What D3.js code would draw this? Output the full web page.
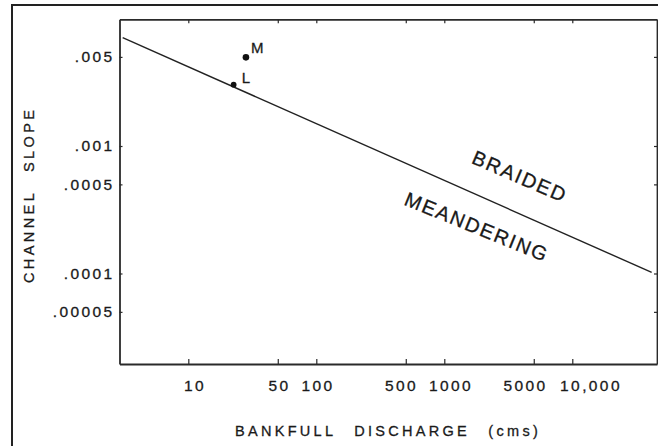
<!DOCTYPE html>
<html>
<head>
<meta charset="utf-8">
<script src="https://cdn.jsdelivr.net/npm/d3@7"></script>
<style>
  html, body { margin: 0; padding: 0; background: #fff; }
  svg { display: block; }
  text { font-family: "Liberation Sans", Arial, Helvetica, sans-serif; fill: #1a1a1a; stroke: #1a1a1a; stroke-width: 0.3px; }
</style>
</head>
<body>
<svg id="chart" width="658" height="446"></svg>
<script>
// Bankfull discharge (cms) tick values and their printed labels
const dischargeTicks = [10, 50, 100, 500, 1000, 5000, 10000];
const dischargeLabels = ["10", "50", "100", "500", "1000", "5000", "10,000"];

// Channel slope tick values and their printed labels
const slopeTicks = [0.005, 0.001, 0.0005, 0.0001, 0.00005];
const slopeLabels = [".005", ".001", ".0005", ".0001", ".00005"];

// Braided / meandering threshold line (end points)
const thresholdQ = [3.07, 41700];
const thresholdS = [0.00707, 0.000102];

// Individual rivers
const pointNames = ["M", "L"];
const pointQ = [28.2, 22.6];
const pointS = [0.00496, 0.00303];

// Region annotations placed on either side of the threshold line
const regionNames = ["BRAIDED", "MEANDERING"];
const regionQ = [1600, 476];
const regionS = [0.000738, 0.000348];

const svg = d3.select("#chart");

// outer frame of the figure
svg.append("rect")
  .attr("x", 12).attr("y", 5)
  .attr("width", 700).attr("height", 460)
  .attr("fill", "none").attr("stroke", "#222").attr("stroke-width", 2);

const plot = { left: 119.5, right: 657, top: 19.3, bottom: 364 };

const x = d3.scaleLog().domain([2.9, 45900]).range([plot.left, plot.right]);
const y = d3.scaleLog().domain([1.95e-5, 0.00986]).range([plot.bottom, plot.top]);

const axisColor = "#2a2a2a";

function styleAxis(g) {
  g.select(".domain").attr("stroke", axisColor).attr("stroke-width", 1.8);
  g.selectAll(".tick line").attr("stroke", axisColor).attr("stroke-width", 1.2);
  g.selectAll(".tick text")
    .attr("fill", "#1a1a1a")
    .style("font-family", '"Liberation Sans", Arial, sans-serif')
    .style("font-size", "15.5px")
    .style("letter-spacing", "2.4px");
}

// hand-lettered discharge labels sit a little off their ticks
const labelNudge = { 10: 5, 500: -6, 1000: 5, 5000: -10, 10000: 17 };

// bottom axis with labels, ticks pointing inward
svg.append("g")
  .attr("transform", `translate(0,${plot.bottom})`)
  .call(d3.axisBottom(x).tickValues(dischargeTicks)
    .tickFormat((d, i) => dischargeLabels[i])
    .tickSize(-5).tickSizeOuter(0).tickPadding(16))
  .call(styleAxis)
  .selectAll(".tick text").attr("dx", d => (labelNudge[d] || 0) + 1.2);

// top axis mirrors the bottom ticks
svg.append("g")
  .attr("transform", `translate(0,${plot.top})`)
  .call(d3.axisTop(x).tickValues(dischargeTicks).tickFormat("")
    .tickSize(-4).tickSizeOuter(0))
  .call(styleAxis);

// left axis with labels
svg.append("g")
  .attr("transform", `translate(${plot.left},0)`)
  .call(d3.axisLeft(y).tickValues(slopeTicks)
    .tickFormat((d, i) => slopeLabels[i])
    .tickSize(-3).tickSizeOuter(0).tickPadding(5))
  .call(styleAxis);

// right axis mirrors the left ticks
svg.append("g")
  .attr("transform", `translate(${plot.right},0)`)
  .call(d3.axisRight(y).tickValues(slopeTicks).tickFormat("")
    .tickSize(-3).tickSizeOuter(0))
  .call(styleAxis);

// threshold line between braided and meandering channels
const linePts = thresholdQ.map((q, i) => [x(q), y(thresholdS[i])]);
svg.append("path")
  .attr("d", d3.line()(linePts))
  .attr("fill", "none")
  .attr("stroke", "#222")
  .attr("stroke-width", 1.4);

const lineAngle = Math.atan2(linePts[1][1] - linePts[0][1], linePts[1][0] - linePts[0][0]) * 180 / Math.PI;

// river points
const pts = svg.append("g");
pointNames.forEach((name, i) => {
  const px = x(pointQ[i]), py = y(pointS[i]);
  pts.append("circle").attr("cx", px).attr("cy", py)
    .attr("r", name === "M" ? 3.3 : 2.9).attr("fill", "#111");
  pts.append("text")
    .attr("x", px + (name === "M" ? 5 : 8))
    .attr("y", py - (name === "M" ? 4 : 2))
    .style("font-size", "15px")
    .text(name);
});

// region annotations
regionNames.forEach((name, i) => {
  const ax = x(regionQ[i]), ay = y(regionS[i]);
  svg.append("text")
    .attr("transform", `translate(${ax},${ay}) rotate(${lineAngle - (i === 0 ? 0.6 : 1.8)})`)
    .style("font-size", "20px")
    .style("letter-spacing", "1.8px")
    .text(name);
});

// axis titles
svg.append("text")
  .attr("x", 235).attr("y", 436)
  .style("font-size", "14.5px")
  .style("letter-spacing", "3.3px")
  .style("word-spacing", "11px")
  .text("BANKFULL DISCHARGE (cms)");

svg.append("text")
  .attr("transform", "translate(34,283) rotate(-90)")
  .style("font-size", "14.5px")
  .style("letter-spacing", "3.4px")
  .style("word-spacing", "11px")
  .text("CHANNEL SLOPE");
</script>
</body>
</html>
